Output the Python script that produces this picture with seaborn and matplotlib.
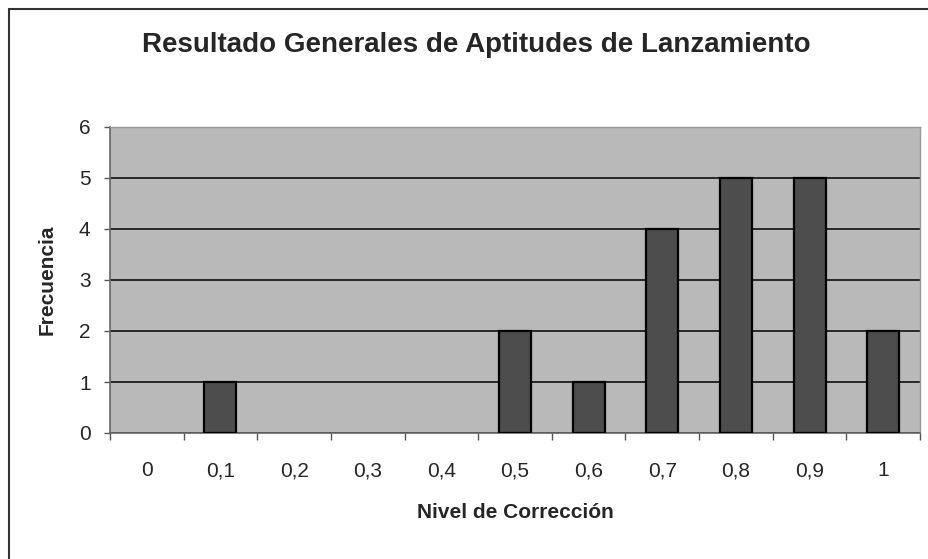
import matplotlib
matplotlib.use("Agg")
import matplotlib.pyplot as plt
from matplotlib.lines import Line2D
from matplotlib.ticker import FixedLocator
import pandas as pd
import seaborn as sns

# --- Datos ---
niveles = ["0", "0,1", "0,2", "0,3", "0,4", "0,5", "0,6", "0,7", "0,8", "0,9", "1"]
frecuencias = [0, 1, 0, 0, 0, 2, 1, 4, 5, 5, 2]
marcas_y = [0, 1, 2, 3, 4, 5, 6]

titulo = "Resultado Generales de Aptitudes de Lanzamiento"
etiqueta_x = "Nivel de Corrección"
etiqueta_y = "Frecuencia"

df = pd.DataFrame({"nivel": niveles, "frecuencia": frecuencias})

sns.set_style("white")
plt.rcParams["font.family"] = ["Liberation Sans", "DejaVu Sans"]

fig = plt.figure(figsize=(9.29, 5.59), dpi=100)
ax = fig.add_axes([110 / 929, 1 - 433 / 559, 810 / 929, 306 / 559])

sns.barplot(data=df, x="nivel", y="frecuencia", order=niveles,
            color="#4d4d4d", saturation=1, width=0.435,
            edgecolor="black", linewidth=1.6, ax=ax, zorder=3)

# sin barra visible para frecuencia nula
for barra in ax.patches:
    if barra.get_height() == 0:
        barra.set_visible(False)

ax.set_facecolor("#b9b9b9")
ax.set_xlim(-0.5, len(niveles) - 0.5)
ax.set_ylim(0, 6)
ax.set_yticks(marcas_y)
ax.yaxis.grid(True, color="black", linewidth=1.1)
ax.set_axisbelow(True)

# marcas del eje x entre categorías
ax.xaxis.set_minor_locator(FixedLocator([i + 0.5 for i in range(-1, len(niveles))]))
ax.tick_params(axis="x", which="major", length=0, pad=31, labelsize=15)
ax.tick_params(axis="x", which="minor", length=5, width=1, color="#555555",
               direction="out", bottom=True)
ax.tick_params(axis="y", length=4, width=1, color="#555555", pad=10,
               labelsize=15, left=True)
for lbl in ax.get_xticklabels():
    lbl.set_verticalalignment("baseline")

for lado in ["top", "right"]:
    ax.spines[lado].set_color("#9a9a9a")
    ax.spines[lado].set_linewidth(1)
for lado in ["left", "bottom"]:
    ax.spines[lado].set_color("#666666")
    ax.spines[lado].set_linewidth(1.2)
ax.spines["top"].set_zorder(4)

ax.set_xlabel(etiqueta_x, fontsize=15, fontweight="bold", labelpad=17)
ax.xaxis.set_label_coords(0.5, -(512 - 433) / 306)
ax.xaxis.label.set_verticalalignment("center")
ax.set_ylabel(etiqueta_y, fontsize=15, fontweight="bold")
ax.yaxis.set_label_coords(-(110 - 47) / 810, 0.5)
ax.yaxis.label.set_verticalalignment("center")

fig.text(476 / 929, 1 - 45 / 559, titulo, ha="center", va="center",
         fontsize=20, fontweight="bold")

# borde del área del gráfico
fig.add_artist(Line2D([9 / 929, 1], [1 - 9 / 559, 1 - 9 / 559],
                      transform=fig.transFigure, color="#333333", lw=1.5))
fig.add_artist(Line2D([9 / 929, 9 / 929], [0, 1 - 9 / 559],
                      transform=fig.transFigure, color="#333333", lw=1.5))

fig.savefig("out.png", dpi=100, facecolor="white")
